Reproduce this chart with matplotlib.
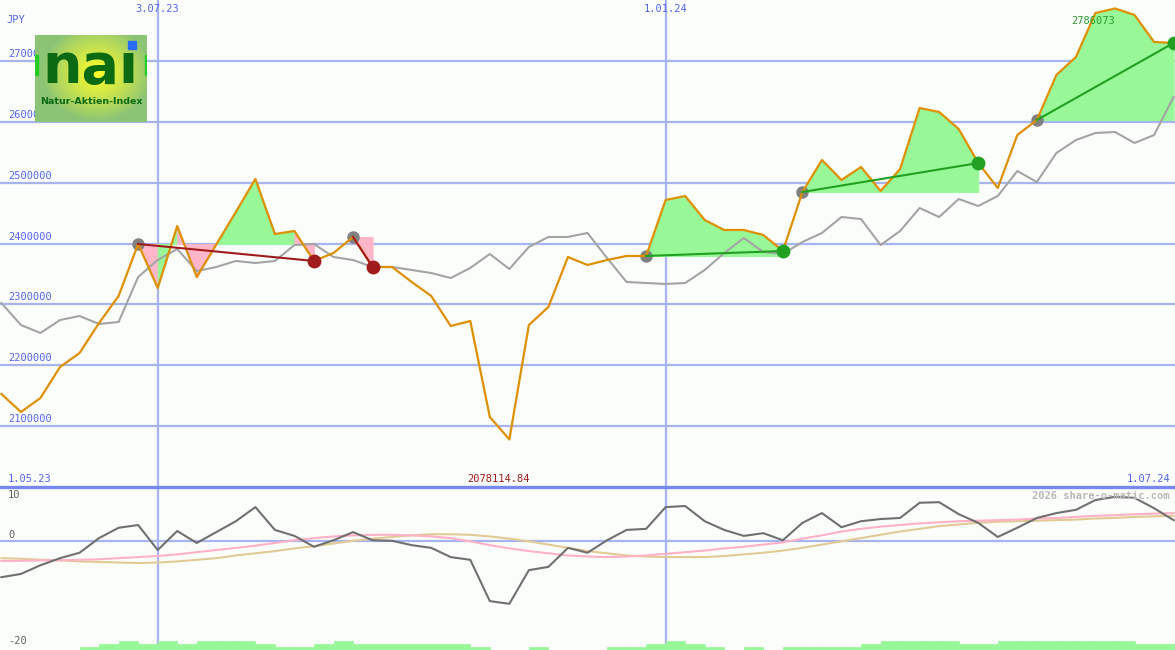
import matplotlib
matplotlib.use('Agg')
import matplotlib.pyplot as plt
import numpy as np
import pandas as pd
from matplotlib.lines import Line2D
from matplotlib.patches import Rectangle
from matplotlib.transforms import blended_transform_factory

# ---------------- data ----------------
dates = pd.date_range('2023-05-08', periods=61, freq='7D')

price = [2152800, 2123200, 2146200, 2197100, 2220100, 2269400, 2313800, 2399200,
         2326900, 2428700, 2345000, 2398500, 2451700, 2506000, 2415600, 2420500,
         2371300, 2384400, 2410700, 2361400, 2361400, 2336800, 2313800, 2264500,
         2272700, 2115000, 2078115, 2266100, 2295700, 2377800, 2364700, 2372900,
         2379500, 2379500, 2471500, 2478000, 2438600, 2422200, 2422200, 2414000,
         2387700, 2484600, 2537200, 2504300, 2525700, 2486200, 2522400, 2622600,
         2616000, 2588100, 2532200, 2491200, 2578200, 2602900, 2676800, 2706400,
         2778600, 2786073, 2775400, 2731000, 2729400]

bench = [2302300, 2266100, 2253000, 2274300, 2280900, 2267800, 2271100, 2345000,
         2372900, 2391000, 2354800, 2361400, 2371300, 2368000, 2371300, 2397500,
         2399200, 2377800, 2372900, 2361400, 2361400, 2356500, 2351500, 2343300,
         2359800, 2382800, 2358100, 2394300, 2410700, 2410700, 2417300, 2376200,
         2336800, 2335100, 2333500, 2335100, 2356500, 2384400, 2409000, 2386000,
         2382800, 2402500, 2417300, 2443500, 2440200, 2397500, 2420500, 2458300,
         2443500, 2473100, 2461600, 2478000, 2519100, 2501000, 2548700, 2570000,
         2581500, 2583200, 2565100, 2578200, 2640700]

# (entry index, exit index, kind)
signals = [(7, 16, 'sell'), (18, 19, 'sell'), (33, 40, 'buy'), (41, 50, 'buy'), (53, 60, 'buy')]

momentum = [-6.6, -6.0, -4.4, -3.1, -2.1, 0.6, 2.5, 3.0, -1.6, 1.9, -0.3, 1.7, 3.7, 6.3,
            2.1, 1.0, -1.0, 0.2, 1.7, 0.2, 0.1, -0.7, -1.2, -2.9, -3.4, -11.0, -11.5,
            -5.3, -4.7, -1.2, -2.1, 0.2, 2.1, 2.3, 6.3, 6.5, 3.7, 2.1, 1.0, 1.5, 0.2,
            3.4, 5.2, 2.6, 3.7, 4.1, 4.3, 7.1, 7.2, 5.0, 3.4, 0.8, 2.5, 4.3, 5.2, 5.8,
            7.6, 8.2, 8.0, 6.1, 3.9]

signal_fast = [-3.6, -3.6, -3.5, -3.5, -3.4, -3.3, -3.1, -2.9, -2.7, -2.4, -2.0, -1.6,
               -1.2, -0.8, -0.3, 0.2, 0.6, 0.9, 1.1, 1.2, 1.2, 1.1, 0.9, 0.6, 0.0, -0.7,
               -1.3, -1.8, -2.2, -2.6, -2.8, -2.9, -2.8, -2.6, -2.3, -2.0, -1.7, -1.3,
               -1.0, -0.6, -0.2, 0.5, 1.1, 1.8, 2.3, 2.7, 3.0, 3.3, 3.5, 3.7, 3.8, 3.9,
               4.0, 4.2, 4.3, 4.5, 4.7, 4.8, 5.0, 5.1, 5.2]

signal_slow = [-3.1, -3.2, -3.4, -3.5, -3.7, -3.8, -3.9, -4.0, -3.9, -3.7, -3.4, -3.1,
               -2.6, -2.2, -1.8, -1.3, -0.9, -0.4, 0.1, 0.5, 0.8, 1.1, 1.3, 1.3, 1.2, 0.9,
               0.5, 0.0, -0.6, -1.2, -1.8, -2.2, -2.6, -2.8, -2.9, -2.9, -2.9, -2.7,
               -2.4, -2.1, -1.7, -1.2, -0.6, 0.0, 0.6, 1.2, 1.8, 2.3, 2.8, 3.1, 3.4, 3.6,
               3.7, 3.8, 3.9, 4.0, 4.2, 4.3, 4.5, 4.6, 4.7]

activity = [0, 0, 0, 0, 1, 2, 3, 2, 3, 2, 3, 3, 3, 2, 1, 1, 2, 3, 2, 2, 2, 2, 2, 2, 1,
            0, 0, 1, 0, 0, 0, 1, 1, 2, 3, 2, 1, 0, 1, 0, 1, 1, 1, 1, 2, 3, 3, 3, 3, 2,
            2, 3, 3, 3, 3, 3, 3, 3, 2, 2, 2]

y_ticks = [2100000, 2200000, 2300000, 2400000, 2500000, 2600000, 2700000]
date_lines = ['2023-07-03', '2024-01-01']
date_line_labels = ['3.07.23', '1.01.24']
edge_labels = ['1.05.23', '1.07.24']
low_ticks = [10, 0, -20]
max_label = '2786073'
min_label = '2078114.84'
currency = 'JPY'

# ---------------- style ----------------
BG = '#fbfdfb'
GRID = '#a8b4f0'
SEP = '#7888ee'
BLUE_TXT = '#5464ee'
MONO = 'DejaVu Sans Mono'
W, H = 1175, 650
GREEN_FILL = '#98f898'
PINK_FILL = '#ffb6c8'

fig = plt.figure(figsize=(W / 100, H / 100), dpi=100, facecolor=BG)
low_h = 163 / H
ax = fig.add_axes([0, low_h, 1, 1 - low_h])
ax2 = fig.add_axes([0, 0, 1, low_h])
xl = (pd.Timestamp('2023-05-07 12:00'), pd.Timestamp('2024-07-01 12:00'))
for a in (ax, ax2):
    a.set_facecolor(BG)
    a.set_xlim(*xl)
    for s in a.spines.values():
        s.set_visible(False)
    a.set_xticks([])
    a.set_yticks([])

ax.set_ylim(2000000, 2800000)
ax2.set_ylim(-20, 10)

price = np.array(price, dtype=float)
bench = np.array(bench, dtype=float)

# grid
for v in y_ticks:
    ax.axhline(v, color=GRID, lw=1.6, zorder=1)
for d in date_lines:
    ax.axvline(pd.Timestamp(d), color=GRID, lw=1.6, zorder=1)
    ax2.axvline(pd.Timestamp(d), color=GRID, lw=1.6, zorder=1)
ax2.axhline(0, color=GRID, lw=1.6, zorder=1)
fig.add_artist(Line2D([0, 1], [low_h, low_h], transform=fig.transFigure, color=SEP, lw=2.4, zorder=5))

# fills for signals (one piece per week, coloured by where the week ends)
for e, x, kind in signals:
    base = price[e]
    for i in range(e, x):
        col = GREEN_FILL if price[i + 1] >= base else PINK_FILL
        ax.fill_between(dates[i:i + 2], base, price[i:i + 2], facecolor=col,
                        edgecolor=col, lw=0.7, zorder=2)

# lines
ax.plot(dates, bench, color='#a4a4a4', lw=1.5, zorder=3)
ax.plot(dates, price, color='#dd9000', lw=1.6, zorder=4)

for e, x, kind in signals:
    ax.plot(dates[e], price[e], 'o', color='#808080', ms=9, zorder=3.5, mec='none')
    lc = '#a01c1c' if kind == 'sell' else '#22a022'
    ax.plot([dates[e], dates[x]], [price[e], price[x]], color=lc, lw=1.5, zorder=5)
    ax.plot(dates[x], price[x], 'o', color=lc, ms=10, zorder=6, mec='none')

# y labels
ytr = blended_transform_factory(fig.transFigure, ax.transData)
for v in y_ticks:
    ax.annotate(str(v), xy=(8 / W, v), xycoords=ytr, xytext=(0, 2), textcoords='offset pixels',
                ha='left', va='bottom', fontsize=7.5, family=MONO, color=BLUE_TXT, zorder=8)

fig.text(6 / W, 1 - 20 / H, currency, ha='left', va='center', fontsize=7.5, family=MONO, color=BLUE_TXT)

xtr = blended_transform_factory(ax.transData, fig.transFigure)
for d, lab in zip(date_lines, date_line_labels):
    ax.text(pd.Timestamp(d), 1 - 9 / H, lab, transform=xtr, ha='center', va='center',
            fontsize=7.5, family=MONO, color=BLUE_TXT)
fig.text(8 / W, 1 - 479 / H, edge_labels[0], ha='left', va='center', fontsize=7.5, family=MONO, color=BLUE_TXT)
fig.text(1170 / W, 1 - 479 / H, edge_labels[1], ha='right', va='center', fontsize=7.5, family=MONO, color=BLUE_TXT)

imax = int(np.argmax(price))
imin = int(np.argmin(price))
ax.text(dates[imax], 1 - 21 / H, max_label, transform=xtr, ha='right', va='center',
        fontsize=7.5, family=MONO, color='#2e9a2e', zorder=9)
ax.text(dates[imin] - pd.Timedelta(days=4), 1 - 479 / H, min_label, transform=xtr, ha='center', va='center',
        fontsize=7.5, family=MONO, color='#a01c1c', zorder=9)

# lower panel
ax2.bar(dates, np.array(activity) * 0.55, bottom=-20, width=7, align='edge', color=GREEN_FILL,
        edgecolor=GREEN_FILL, lw=0.5, zorder=2)
ax2.plot(dates, signal_slow, color='#e2ca96', lw=1.5, zorder=3)
ax2.plot(dates, signal_fast, color='#ffb2c6', lw=1.5, zorder=3)
ax2.plot(dates, momentum, color='#707070', lw=1.5, zorder=4)

for v, yp in zip(low_ticks, [495, 535, 641]):
    fig.text(8 / W, 1 - yp / H, str(v), ha='left', va='center', fontsize=7.5, family=MONO, color='#606060')
fig.text(1170 / W, 1 - 496 / H, '2026 share-o-matic.com', ha='right', va='center', fontsize=7.5,
         family=MONO, color='#b8b8b8', fontweight='bold')

# logo
lax = fig.add_axes([35 / W, 1 - 122 / H, 112 / W, 87 / H])
lax.set_xlim(0, 112)
lax.set_ylim(87, 0)
lax.axis('off')
gx, gy = np.meshgrid(np.linspace(0, 112, 112), np.linspace(0, 87, 87))
r = np.sqrt(((gx - 62) / 55) ** 2 + ((gy - 38) / 48) ** 2)
t = np.clip(1 - r, 0, 1) ** 0.9
c_out = np.array([140, 196, 118]) / 255
c_in = np.array([255, 255, 40]) / 255
img = c_out[None, None, :] * (1 - t[..., None]) + c_in[None, None, :] * t[..., None]
lax.imshow(img, extent=(0, 112, 87, 0), aspect='auto', zorder=0)
lax.add_patch(Rectangle((0, 20), 2.5, 20, color='#22cc22', zorder=1))
lax.add_patch(Rectangle((109.5, 20), 2.5, 20, color='#22cc22', zorder=1))
lax.text(7, 48, 'naı', ha='left', va='baseline', fontsize=40, fontweight='bold',
         family='DejaVu Sans', color='#0b6a12', zorder=2)
lax.add_patch(Rectangle((93, 6), 8, 8, color='#2a6cf0', zorder=3))
lax.text(56, 66, 'Natur-Aktien-Index', ha='center', va='center', fontsize=6.8, fontweight='bold',
         family='DejaVu Sans', color='#0b6a12', zorder=2)

fig.savefig('out.png', dpi=100, facecolor=BG)
